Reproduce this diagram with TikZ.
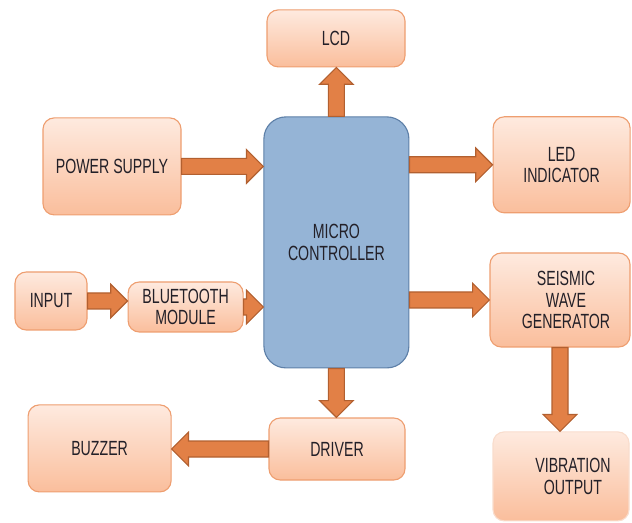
\documentclass[tikz,border=0pt]{standalone}
\usepackage{fontspec}
\setmainfont{Liberation Sans}[FakeStretch=0.69]
\usetikzlibrary{calc}

\definecolor{caixaborda}{RGB}{238,158,112}
\definecolor{caixatopo}{RGB}{254,234,223}
\definecolor{caixabase}{RGB}{250,190,156}
\definecolor{microcor}{RGB}{149,180,214}
\definecolor{microborda}{RGB}{94,128,168}
\definecolor{setacor}{RGB}{226,128,70}
\definecolor{setaborda}{RGB}{178,96,48}
\definecolor{texto}{RGB}{35,32,40}

\tikzset{
  caixa/.style={draw=caixaborda, line width=0.8pt, rounded corners=0.28cm,
    top color=caixatopo, bottom color=caixabase, align=center, text=texto,
    font=\fontsize{14.6}{15}\selectfont, inner sep=0pt},
  micro/.style={draw=microborda, fill=microcor, line width=0.8pt, rounded corners=0.55cm,
    align=center, text=texto, font=\fontsize{14.6}{15}\selectfont, inner sep=0pt},
  seta/.style={draw=setaborda, fill=setacor, line width=0.8pt, line join=miter,
    to path={let \p1=(\tikztostart), \p2=(\tikztotarget),
      \n1={atan2(\y2-\y1,\x2-\x1)}, \n2={veclen(\x2-\x1,\y2-\y1)} in
      ([shift={(\p1)},rotate=\n1]0pt,-0.2cm)
      -- ([shift={(\p1)},rotate=\n1]\n2-0.42cm,-0.2cm)
      -- ([shift={(\p1)},rotate=\n1]\n2-0.42cm,-0.42cm)
      -- ([shift={(\p1)},rotate=\n1]\n2,0pt)
      -- ([shift={(\p1)},rotate=\n1]\n2-0.42cm,0.42cm)
      -- ([shift={(\p1)},rotate=\n1]\n2-0.42cm,0.2cm)
      -- ([shift={(\p1)},rotate=\n1]0pt,0.2cm) -- cycle}}
}

\begin{document}
\begin{tikzpicture}
  \useasboundingbox (0,0) rectangle (15.8,13.05); %Margens
    %Blocos
  \node[micro, minimum width=3.625cm, minimum height=6.275cm] (mcu) at (8.41,6.99) {MICRO\\CONTROLLER};
  \node[caixa, minimum width=3.45cm, minimum height=1.425cm] (lcd) at (8.4,12.09) {LCD};
  \node[caixa, minimum width=3.45cm, minimum height=2.425cm] (fonte) at (2.8,8.89) {POWER SUPPLY};
  \node[caixa, minimum width=3.425cm, minimum height=2.4cm] (led) at (14.04,8.93) {LED\\INDICATOR};
  \node[caixa, minimum width=1.8cm, minimum height=1.45cm] (entrada) at (1.275,5.525) {INPUT};
  \node[caixa, minimum width=2.875cm, minimum height=1.25cm] (bt) at (4.64,5.375) {BLUETOOTH\\MODULE};
  \node[caixa, minimum width=3.5cm, minimum height=2.35cm] (sismo) at (14.0,5.55) {\hspace*{0.3cm}SEISMIC\\\hspace*{0.3cm}WAVE\\\hspace*{0.3cm}GENERATOR};
  \node[caixa, minimum width=3.4cm, minimum height=1.55cm] (driver) at (8.425,1.825) {DRIVER};
  \node[caixa, minimum width=3.575cm, minimum height=2.175cm] (buzzer) at (2.49,1.84) {BUZZER};
  \node[caixa, draw=caixaborda!35, minimum width=3.4cm, minimum height=2.225cm] (vib) at (14.025,1.14) {\hspace*{0.6cm}VIBRATION\\\hspace*{0.6cm}OUTPUT};
    %Setas
  \draw[seta] (mcu.north) to (mcu.north |- lcd.south); %Para o LCD
  \draw[seta] (fonte.east) to (fonte.east -| mcu.west); %Alimentacao
  \draw[seta] (led.west -| mcu.east) to (led.west); %Para o LED
  \draw[seta] (entrada.east) to (entrada.east -| bt.west);
  \draw[seta] (bt.east) to (bt.east -| mcu.west);
  \draw[seta] (sismo.west -| mcu.east) to (sismo.west); %Para o gerador
  \draw[seta] (mcu.south) to (mcu.south |- driver.north); %Para o driver
  \draw[seta] (driver.west) to (driver.west -| buzzer.east); %Para o buzzer
  \draw[seta] (sismo.south) to (sismo.south |- vib.north); %Vibracao
\end{tikzpicture}
\end{document}
